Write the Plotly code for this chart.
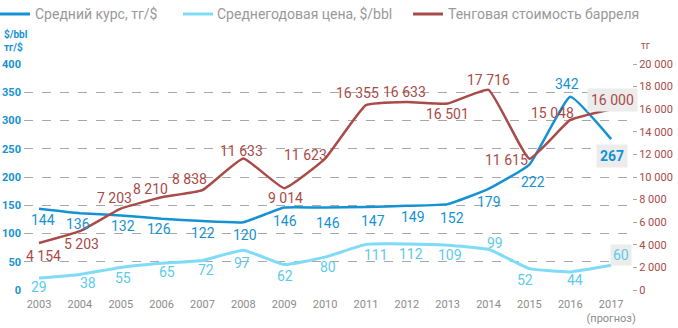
import plotly.graph_objects as go

years = list(range(2003, 2018))
year_labels = [str(y) for y in years[:-1]] + ["2017<br>(прогноз)"]
rate = [144, 136, 132, 126, 122, 120, 146, 146, 147, 149, 152, 179, 222, 342, 267]
oil = [29, 38, 55, 65, 72, 97, 62, 80, 111, 112, 109, 99, 52, 44, 60]
tenge = [4154, 5203, 7203, 8210, 8838, 11633, 9014, 11623, 16355, 16633, 16501, 17716, 11615, 15048, 16000]

left_ticks = list(range(0, 401, 50))
right_ticks = list(range(0, 20001, 2000))

names = ["Средний курс, тг/$", "Среднегодовая цена, $/bbl", "Тенговая стоимость барреля"]

C_BLUE = "#1592d3"
C_LBLUE = "#80dcf6"
C_LBLUE_T = "#5ccbea"
C_RED = "#a94b48"
GRAY_T = "#8c8c8c"
BOX = "#ececec"

W, H = 678, 328
ML, MR, MT, MB = 24, 46, 64, 38
PW, PH = W - ML - MR, H - MT - MB

def px_x(p):
    return (p - ML) / PW

def px_y(p):
    return 1 - (p - MT) / PH

# label offsets in px (dx, dy down)
rate_off = [(4, 11), (-2, 11), (2, 11), (-3, 10), (1, 12), (2, 13), (1, 13), (3, 15), (7, 14), (6, 11),
            (4, 14), (0, 13), (4, 17), (-3, -13), (1, 17)]
oil_off = [(0, 9), (8, 9), (2, 11), (5, 9), (4, 10), (-1, 13), (1, 11), (3, 10), (10, 11), (4, 10),
           (2, 10), (6, -6), (-4, 11), (5, 8), (10, -10)]
tenge_off = [(4, 13), (2, 13), (-6, -11), (-11, -8), (-13, -11), (-2, -8), (1, 10), (-20, -4), (-8, -12),
             (-2, -10), (0, 10), (0, -10), (-23, 1), (-18, -7), (1, -9)]

FONT = "Roboto"
SM = 0.35

fig = go.Figure()
fig.add_trace(go.Scatter(x=years, y=rate, name=names[0], mode="lines",
                         line=dict(color=C_BLUE, width=2.5, shape="spline", smoothing=SM),
                         yaxis="y"))
fig.add_trace(go.Scatter(x=years, y=oil, name=names[1], mode="lines",
                         line=dict(color=C_LBLUE, width=3, shape="spline", smoothing=SM),
                         yaxis="y3"))
fig.add_trace(go.Scatter(x=years, y=tenge, name=names[2], mode="lines",
                         line=dict(color=C_RED, width=2.5, shape="spline", smoothing=SM),
                         yaxis="y2"))

def fmt(v):
    return f"{v:,}".replace(",", " ")

ann = []
n = len(years)
for i, (x, v) in enumerate(zip(years, rate)):
    dx, dy = rate_off[i]
    last = i == n - 1
    ann.append(dict(x=x, y=v, xref="x", yref="y", text=(f"<b>{v}</b>" if last else str(v)),
                    showarrow=False, xshift=dx, yshift=-dy,
                    font=dict(family=FONT, size=14, color=C_BLUE),
                    bgcolor=BOX if last else None, borderpad=3))
for i, (x, v) in enumerate(zip(years, oil)):
    dx, dy = oil_off[i]
    last = i == n - 1
    ann.append(dict(x=x, y=v, xref="x", yref="y3", text=str(v),
                    showarrow=False, xshift=dx, yshift=-dy,
                    font=dict(family=FONT, size=14, color=C_LBLUE_T),
                    bgcolor=BOX if last else None, borderpad=2))
for i, (x, v) in enumerate(zip(years, tenge)):
    dx, dy = tenge_off[i]
    last = i == n - 1
    ann.append(dict(x=x, y=v, xref="x", yref="y2", text=fmt(v),
                    showarrow=False, xshift=dx, yshift=-dy,
                    font=dict(family=FONT, size=14, color=C_RED),
                    bgcolor=BOX if last else None, borderpad=3))

# axis unit titles
ann.append(dict(xref="paper", yref="paper", x=px_x(2), y=px_y(40), xanchor="left", yanchor="middle",
                text="$/bbl<br>тг/$", showarrow=False, align="left",
                font=dict(family=FONT, size=10, color=C_BLUE, weight="bold")))
ann.append(dict(xref="paper", yref="paper", x=px_x(639), y=px_y(45), xanchor="left", yanchor="middle",
                text="тг", showarrow=False,
                font=dict(family=FONT, size=10, color=C_RED)))

# manual legend
shapes = []
leg_pos = [(0, 33), (183, 215), (413, 446)]
leg_cols = [C_BLUE, C_LBLUE, C_RED]
for (lx, tx), col, nm in zip(leg_pos, leg_cols, names):
    shapes.append(dict(type="line", xref="paper", yref="paper", x0=px_x(lx), x1=px_x(lx + 30),
                       y0=px_y(14), y1=px_y(14), line=dict(color=col, width=3)))
    ann.append(dict(xref="paper", yref="paper", x=px_x(tx), y=px_y(14), xanchor="left", yanchor="middle",
                    text=nm, showarrow=False, font=dict(family=FONT, size=14, color="#999999")))

fig.update_layout(
    width=W, height=H,
    margin=dict(l=ML, r=MR, t=MT, b=MB, autoexpand=False),
    paper_bgcolor="white", plot_bgcolor="white",
    font=dict(family=FONT),
    separators=", ",
    showlegend=False,
    xaxis=dict(range=[2002.633, 2017.51], tickvals=years, ticktext=year_labels,
               showgrid=False, zeroline=False, showline=False, ticks="", automargin=False,
               ticklabelstandoff=6,
               tickfont=dict(family=FONT, size=11, color=GRAY_T)),
    yaxis=dict(range=[0, 400], tickvals=left_ticks, showgrid=True, gridcolor="#a8a8a8",
               griddash="dash", gridwidth=1, zeroline=False, showline=False, ticks="", automargin=False,
               ticklabelstandoff=2,
               tickfont=dict(family=FONT, size=11, color=C_BLUE, weight="bold")),
    yaxis2=dict(range=[0, 20000], tickvals=right_ticks, overlaying="y", side="right",
                showgrid=False, zeroline=False, showline=False, ticks="outside", ticklen=4,
                tickcolor="#a8a8a8", tickformat=",d", automargin=False,
                tickfont=dict(family=FONT, size=11, color=C_RED)),
    yaxis3=dict(range=[0, 550], overlaying="y", visible=False),
    shapes=shapes,
    annotations=ann,
)

fig.write_html("out.html")
